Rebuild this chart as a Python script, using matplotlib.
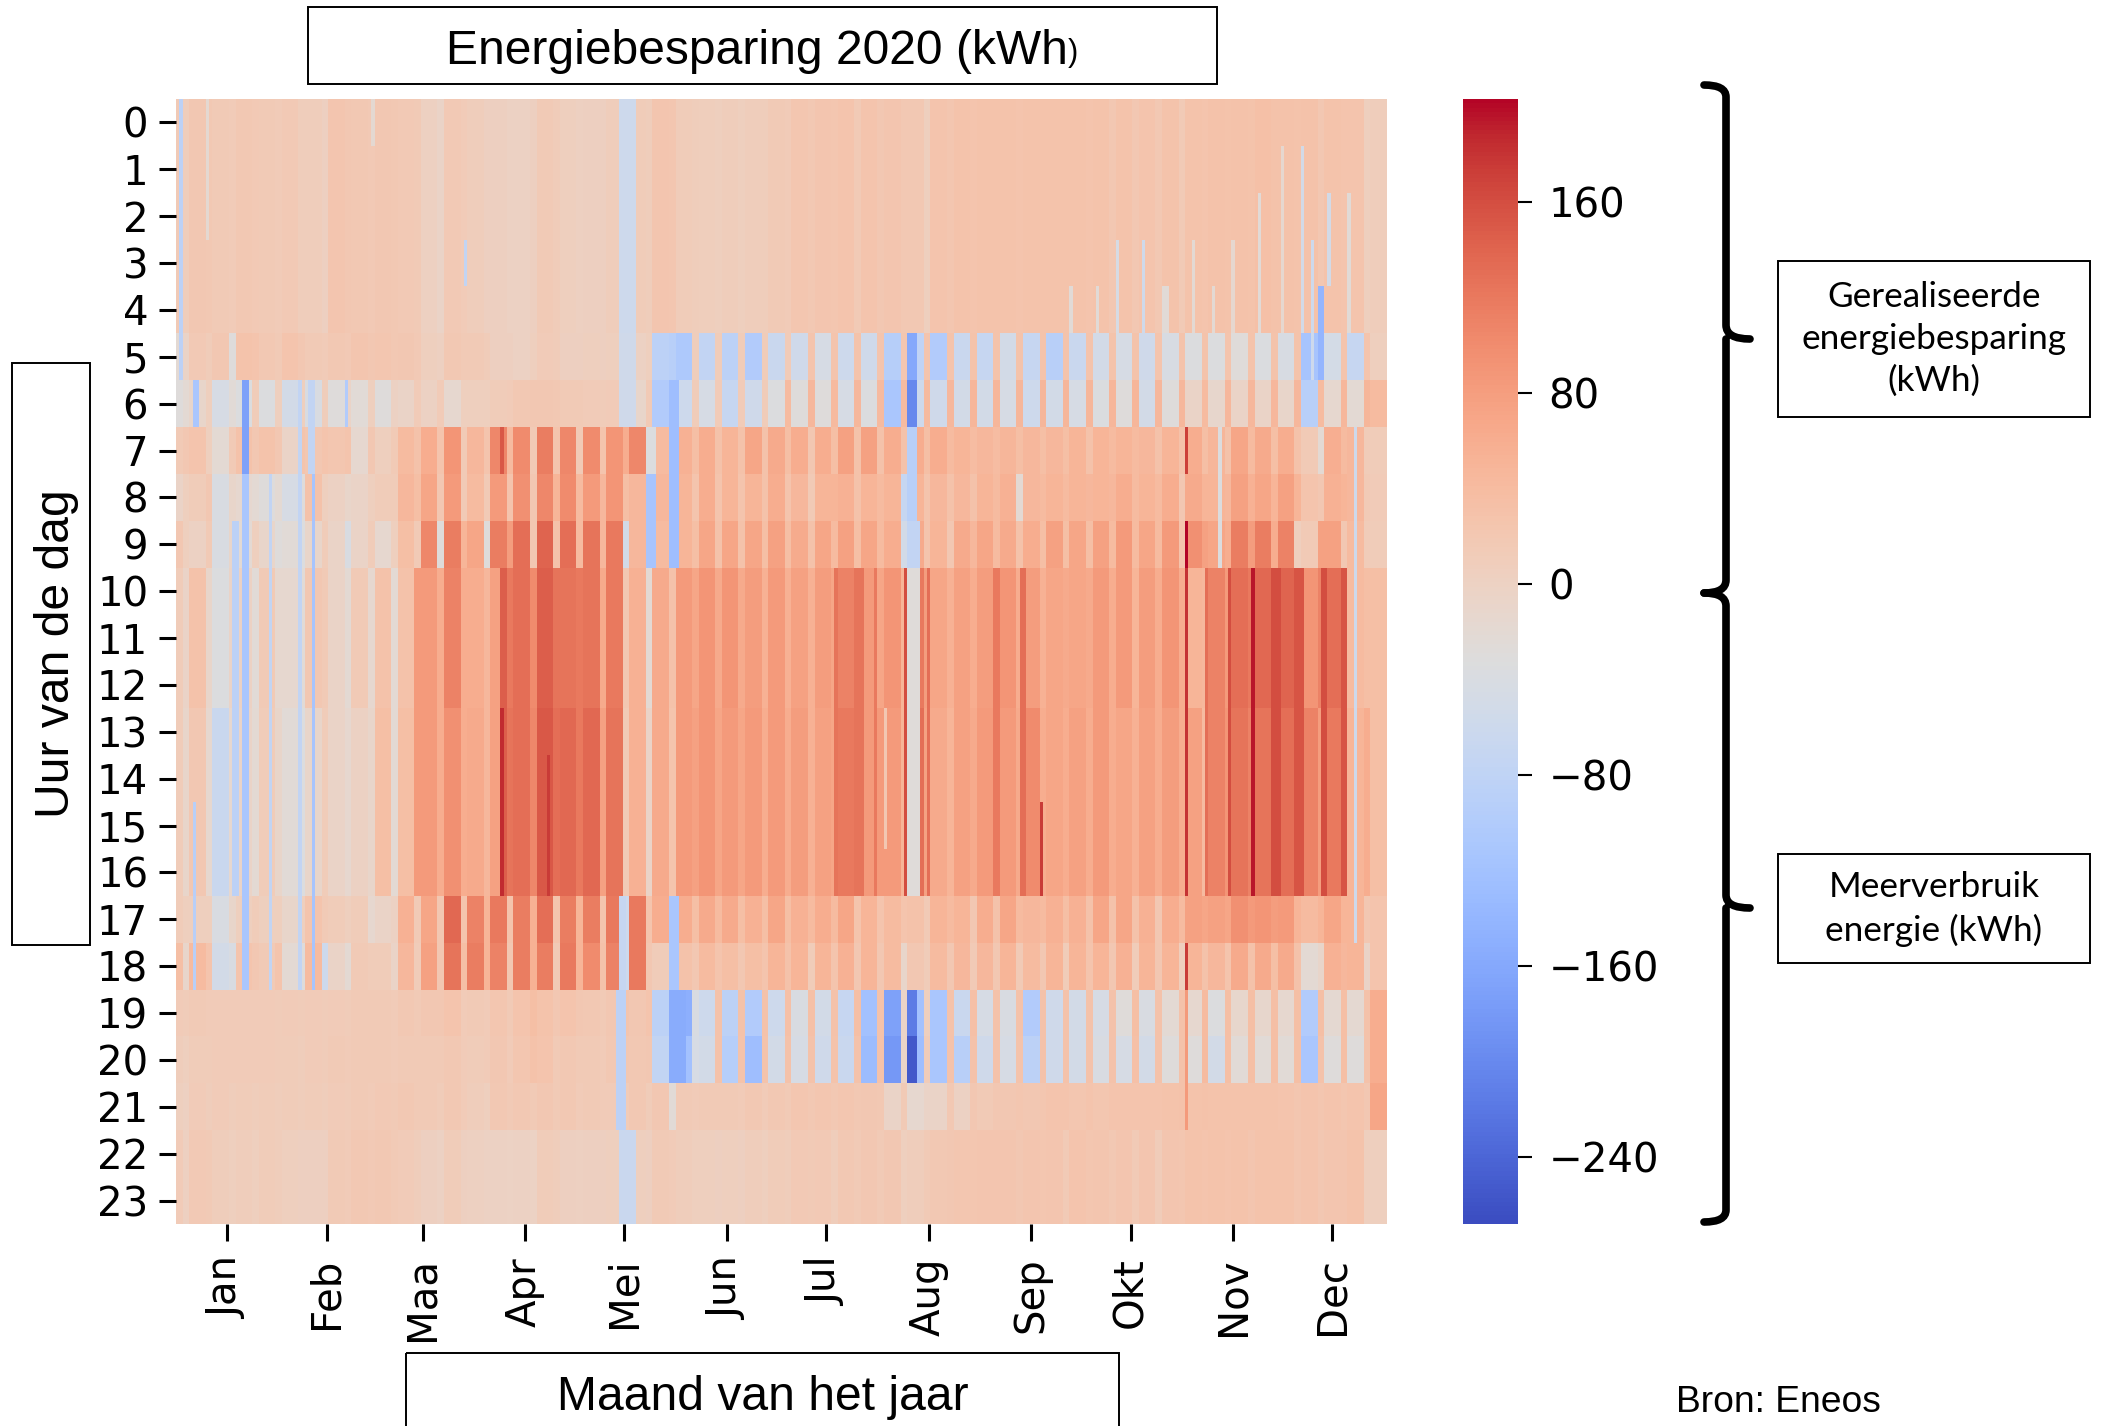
import numpy as np
import matplotlib
matplotlib.use('Agg')
import matplotlib.pyplot as plt
from matplotlib.patches import Rectangle, PathPatch
from matplotlib.path import Path

# kWh per hour band, one value per week (k = 0..52), working days and weekend
night_wd = [15,20,15,18,14,16,8,24,18,20,16,2,16,
            8,3,0,14,5,4,8,10,24,10,7,8,9,
            14,22,24,26,26,24,18,25,27,28,28,28,28,
            28,28,27,26,28,28,30,30,32,30,30,28,25,8]
night_we = [8,18,12,16,12,8,4,20,16,18,14,-5,12,
            4,0,4,10,2,3,8,8,22,8,5,5,8,
            12,18,22,15,20,18,6,22,25,28,26,28,28,
            26,20,20,18,15,26,28,28,30,28,20,25,5,5]
h5_wd = [-20,16,20,28,18,25,14,18,24,22,20,5,18,
         14,4,0,12,3,6,6,0,-85,-105,-75,-85,-100,
         -65,-55,-45,-60,-55,-95,-80,-100,-65,-70,-50,-70,-90,
         -65,-50,-45,-55,-42,-35,-35,-28,-38,-42,-115,-48,-70,5]
h5_we = [-5,10,-30,25,15,20,12,16,20,18,16,2,14,
         10,3,5,10,4,4,6,5,-90,8,10,10,10,
         12,26,25,28,25,22,25,28,28,28,28,28,28,
         28,28,28,26,28,28,26,28,28,28,10,25,26,5]
h6_wd = [-30,-10,-45,-35,-35,-50,-40,-30,-25,-30,-5,0,-15,
         5,10,18,20,15,12,12,-10,-100,-60,-45,-70,-55,
         -35,-30,-30,-45,-35,-110,-60,-55,-50,-50,-45,-60,-50,
         -45,-38,-30,-50,-30,-5,-12,-5,-5,-10,-90,-15,-20,40]
h6_we = [-20,5,-25,10,5,5,8,-5,5,0,12,12,5,
         5,12,20,18,15,10,12,15,-40,10,12,12,10,
         40,45,42,45,42,40,42,45,48,48,48,48,48,
         48,48,48,45,45,40,45,45,45,45,40,45,48,45]
h7_wd = [15,25,-20,30,28,-5,20,22,-15,5,40,60,90,
         45,105,100,115,105,100,90,105,40,55,60,50,70,
         65,60,60,75,75,60,60,60,50,45,48,45,45,
         50,50,50,45,50,60,48,70,65,60,15,58,45,10]
h7_we = [20,5,15,20,20,25,25,25,20,15,30,25,15,
         25,40,15,25,15,25,60,60,20,35,30,30,30,
         35,20,35,30,30,30,35,40,38,38,35,35,35,
         30,40,40,30,30,35,30,40,35,30,-20,40,10,10]
h8_wd = [-5,10,-40,-15,-30,-45,30,0,-5,10,45,70,85,
         40,85,95,105,100,85,90,45,45,50,60,50,50,
         60,45,50,55,50,50,50,45,45,50,55,45,50,
         50,50,60,50,60,65,50,75,70,75,25,55,45,12]
h8_we = [5,20,-10,-20,-20,-30,5,-10,5,10,35,20,15,
         15,25,20,50,40,45,35,35,25,25,25,25,30,
         25,15,50,30,40,-70,25,30,30,40,-20,40,40,
         45,45,40,40,20,50,45,55,50,50,20,50,15,5]
h9_wd = [20,0,-40,-20,-10,-25,-10,-5,-5,-15,35,105,115,
         70,115,130,140,130,125,120,45,40,50,70,70,70,
         75,62,70,75,70,60,65,50,65,70,65,60,75,
         70,75,85,70,85,95,70,115,115,110,15,75,40,10]
h9_we = [5,15,-10,5,-30,-35,10,-40,10,5,15,-30,50,
         -30,80,20,30,40,45,-50,30,30,35,30,30,35,
         35,30,40,35,40,-50,25,20,45,40,30,35,35,
         35,40,40,40,25,75,60,80,60,5,75,20,10,10]
h10_wd = [10,30,-35,0,15,-15,20,-5,15,30,30,85,110,
          60,75,130,145,125,125,120,55,65,85,90,90,80,
          85,75,80,110,85,90,120,70,75,80,90,80,70,
          70,85,85,80,90,50,110,130,135,140,90,130,40,35]
h10_we = [-5,-10,-5,-25,-15,-25,15,-20,-15,-20,85,60,60,
          45,120,100,125,120,65,20,-20,30,70,65,65,55,
          55,55,70,60,70,50,80,55,60,65,60,55,65,
          65,60,50,60,60,45,85,120,110,90,110,70,35,35]
h13_wd = [10,20,-65,-5,10,-25,-10,-5,0,35,35,85,95,
          65,75,130,150,135,135,125,55,65,85,90,85,85,
          85,80,75,120,85,85,130,65,75,85,85,100,70,
          75,85,70,75,80,75,110,125,125,130,110,120,50,35]
h13_we = [-10,-15,-15,-20,-10,-35,10,-15,-10,-20,85,60,60,
          45,125,105,130,120,75,15,-5,25,75,70,70,60,
          60,55,70,75,85,50,75,50,65,60,65,60,60,
          60,60,55,60,60,40,90,110,110,100,80,100,60,35]
h17_wd = [10,5,-40,5,5,-10,25,10,10,-5,55,70,135,
          110,120,115,130,115,115,120,120,60,60,65,65,55,
          70,55,60,70,50,40,30,50,50,60,70,45,55,
          55,70,70,55,60,75,75,95,90,85,40,70,50,25]
h17_we = [5,5,-10,10,5,5,15,5,-15,0,15,20,25,
          50,25,55,25,50,25,-60,25,35,35,40,35,35,
          35,40,40,25,25,25,15,40,20,30,40,40,35,
          30,30,30,20,40,70,70,85,80,50,50,50,20,40]
h18_wd = [35,40,-50,25,15,-20,40,-5,15,10,45,75,125,
          115,110,115,115,120,100,110,120,10,30,40,35,35,
          50,50,50,55,50,40,20,40,45,45,50,40,50,
          50,50,55,50,50,50,45,65,65,65,-20,55,50,25]
h18_we = [-10,25,-40,20,25,-30,-60,-20,10,-5,10,20,35,
          50,20,55,15,50,30,-60,20,20,20,25,20,25,
          30,10,25,20,20,-10,10,20,15,20,15,20,10,
          25,20,10,20,5,30,25,30,35,30,-10,45,-5,60]
h19_wd = [12,15,12,12,12,12,12,12,14,15,18,20,25,
          15,22,25,28,25,18,20,20,-85,-150,-60,-85,-100,
          -60,-40,-50,-70,-120,-170,-120,-110,-65,-45,-40,-100,-55,
          -50,-45,-28,-40,-20,-15,-35,-12,-12,-15,-100,-18,-18,60]
h19_we = [10,12,12,12,10,10,10,10,14,12,14,20,12,
          12,15,35,20,20,15,25,25,-100,-40,30,30,30,
          32,32,30,35,30,-5,5,30,32,30,30,30,30,
          30,30,35,30,30,40,35,35,35,35,35,35,30,60]
h20_wd = [8,10,12,12,12,10,12,14,14,15,15,15,18,
          10,20,22,25,18,15,18,18,-75,-120,-50,-95,-125,
          -50,-45,-55,-65,-130,-180,-125,-110,-90,-55,-45,-85,-55,
          -50,-40,-45,-50,-30,-30,-50,-25,-25,-25,-110,-30,-30,60]
h20_we = [5,10,12,12,10,8,10,12,14,12,14,14,12,
          12,12,30,15,15,12,20,20,-90,-45,30,28,28,
          30,30,28,30,30,-5,10,30,30,30,28,30,30,
          30,30,32,30,30,40,35,35,35,35,30,35,30,65]
h21_wd = [5,12,12,10,10,10,10,12,14,16,18,15,18,
          8,18,18,20,18,15,12,18,20,15,15,15,18,
          18,22,22,22,20,-5,-15,-5,0,15,20,20,25,
          22,22,25,25,28,28,28,28,28,25,25,25,25,70]
h21_we = [2,8,8,8,8,8,8,10,12,14,15,10,12,
          5,15,15,15,12,12,12,10,-25,12,14,12,12,
          15,18,18,18,18,15,-5,18,20,20,22,22,25,
          25,25,25,25,30,30,28,28,28,22,22,22,20,70]
h22_wd = [12,16,8,8,10,6,4,14,18,18,12,3,10,
          2,0,0,10,3,4,5,6,14,8,5,6,8,
          10,16,16,18,20,20,8,18,22,24,24,24,24,
          26,24,24,24,24,28,28,28,28,28,26,24,28,5]
h22_we = [2,14,6,6,8,4,3,12,16,14,8,0,4,
          0,-2,-2,8,1,3,5,4,12,5,4,4,6,
          8,14,8,14,15,5,15,20,22,24,20,22,14,
          22,18,15,10,22,26,26,24,28,22,20,24,5,3]

# single days that stand out: first day, last day, first hour, last hour, kWh
odd_days = [(1,1,0,5,-85),(9,9,0,2,-18),(59,59,0,0,-18),(87,87,3,3,-75),
            (134,138,0,4,-60),(134,138,5,6,-55),(134,138,22,23,-65),(133,135,19,21,-85),
            (134,135,17,18,-70),(142,144,7,7,-35),(142,144,8,9,-115),
            (149,151,6,9,-125),(149,151,17,18,-110),(149,153,19,20,-155),
            (20,21,6,7,-170),(20,21,8,18,-110),(17,18,9,16,-85),(5,6,6,6,-110),(5,5,15,18,-90),
            (28,28,8,18,-75),(37,37,6,18,-75),(41,41,8,18,-115),(40,41,6,7,-75),(51,51,6,6,-100),
            (98,99,10,16,145),(98,98,13,16,185),(98,98,7,7,150),(112,112,14,16,175),
            (199,199,10,16,125),(205,207,10,16,125),(211,211,10,16,120),(220,220,10,16,160),
            (227,227,10,16,130),(214,214,13,15,20),(247,248,10,16,120),(255,256,10,16,130),
            (311,311,10,16,130),(318,318,10,16,160),(331,333,10,16,160),(338,340,10,16,155),
            (346,347,10,16,160),(352,353,10,16,155),
            (221,224,10,16,-28),(221,224,9,9,-75),(221,223,7,8,-90),(221,223,5,5,-160),
            (221,223,6,6,-200),(221,223,19,19,-215),(221,223,20,20,-255),
            (305,305,7,7,170),(305,305,9,9,205),(305,305,10,16,180),(305,305,18,18,175),(305,305,19,21,85),
            (325,325,10,16,195),(261,261,15,16,175),(356,356,7,17,-60),(315,315,7,9,-35),
            (270,270,4,4,-25),(278,278,4,4,-25),(284,284,3,4,-45),(292,292,3,4,-55),(298,299,4,4,-25),
            (307,307,3,4,-20),(313,313,4,4,-20),(319,319,3,4,-15),(327,327,2,4,-25),(334,334,1,4,-15),
            (340,340,1,4,-50),(343,343,3,5,-60),(345,346,4,5,-140),(348,348,2,3,-50),(354,354,2,4,-25)]

hours = list(range(24))
months = ['Jan','Feb','Maa','Apr','Mei','Jun','Jul','Aug','Sep','Okt','Nov','Dec']
month_mid = [15,45,74,105,135,166,196,227,258,288,319,349]
cbar_ticks = [-240,-160,-80,0,80,160]

bands = [(0,4,night_wd,night_we),(5,5,h5_wd,h5_we),(6,6,h6_wd,h6_we),(7,7,h7_wd,h7_we),
         (8,8,h8_wd,h8_we),(9,9,h9_wd,h9_we),(10,12,h10_wd,h10_we),(13,16,h13_wd,h13_we),
         (17,17,h17_wd,h17_we),(18,18,h18_wd,h18_we),(19,19,h19_wd,h19_we),(20,20,h20_wd,h20_we),
         (21,21,h21_wd,h21_we),(22,23,h22_wd,h22_we)]

data = np.zeros((24, 366))
for first, last, wd, we in bands:
    for k in range(53):
        for day in range(7*k-3, 7*k+4):
            if 0 <= day < 366:
                data[first:last+1, day] = wd[k] if day < 7*k+2 else we[k]
for d0, d1, h0, h1, val in odd_days:
    data[h0:h1+1, d0:d1+1] = val

W, H = 2101, 1426
fig = plt.figure(figsize=(W/100, H/100), dpi=100)

ax = fig.add_axes([176/W, 1-1224/H, 1211/W, 1125/H])
im = ax.imshow(data, cmap='coolwarm', vmin=-268, vmax=203, aspect='auto',
               interpolation='nearest', extent=[0, 366, 24, 0])
ax.set_yticks([h+0.5 for h in hours])
ax.set_yticklabels(hours, fontsize=29)
ax.set_xticks([m+0.5 for m in month_mid])
ax.set_xticklabels(months, fontsize=29, rotation=90)
ax.tick_params(axis='y', length=12, width=2.2, pad=8)
ax.tick_params(axis='x', length=12, width=2.2, pad=12)
for s in ax.spines.values():
    s.set_visible(False)

cax = fig.add_axes([1463/W, 1-1224/H, 55/W, 1125/H])
cb = fig.colorbar(im, cax=cax)
cb.set_ticks(cbar_ticks)
cb.ax.tick_params(labelsize=29, length=10, width=1.5, pad=12)
cb.outline.set_visible(False)

# annotation layer in pixel coordinates
top = fig.add_axes([0, 0, 1, 1], facecolor='none')
top.set_xlim(0, W)
top.set_ylim(H, 0)
top.axis('off')

for x, y, w, h in [(308,7,909,77),(12,363,78,582),(406,1353,713,90),(1778,261,312,156),(1778,854,312,109)]:
    top.add_patch(Rectangle((x, y), w, h, fill=False, ec='black', lw=1.4, clip_on=True))

arial = 'Liberation Sans'
top.text(446, 51, 'Energiebesparing 2020 (kWh', fontsize=34.6, family=arial, ha='left', va='center')
top.text(1068, 53, ')', fontsize=22, family=arial, ha='left', va='center')
top.text(57, 654, 'Uur van de dag', fontsize=34.6, family=arial, rotation=90, ha='center', va='center')
top.text(763, 1397, 'Maand van het jaar', fontsize=34.6, family=arial, ha='center', va='center')
top.text(1676, 1403, 'Bron: Eneos', fontsize=26.8, family=arial, ha='left', va='center')
top.text(1934, 339, 'Gerealiseerde\nenergiebesparing\n(kWh)', fontsize=25.3, family='Lato',
         ha='center', va='center', linespacing=1.38)
top.text(1934, 909, 'Meerverbruik\nenergie (kWh)', fontsize=25.3, family='Lato',
         ha='center', va='center', linespacing=1.38)

# brace
xb = 1726
verts = [(1704,85),(1726,85),(xb,97),(xb,325),(xb,339),(1750,339),(xb,339),(xb,353),(xb,580),(xb,593),(1704,593)]
codes = [Path.MOVETO,Path.CURVE3,Path.CURVE3,Path.LINETO,Path.CURVE3,Path.CURVE3,Path.MOVETO,Path.CURVE3,
         Path.LINETO,Path.CURVE3,Path.CURVE3]
top.add_patch(PathPatch(Path(verts, codes), fill=False, lw=5.5, ec='black', capstyle='round'))
verts2 = [(1704,593),(1726,593),(xb,606),(xb,895),(xb,908),(1750,908),(xb,908),(xb,921),(xb,1210),(xb,1222),(1704,1222)]
top.add_patch(PathPatch(Path(verts2, codes), fill=False, lw=5.5, ec='black', capstyle='round'))

fig.savefig('out.png', dpi=100)
